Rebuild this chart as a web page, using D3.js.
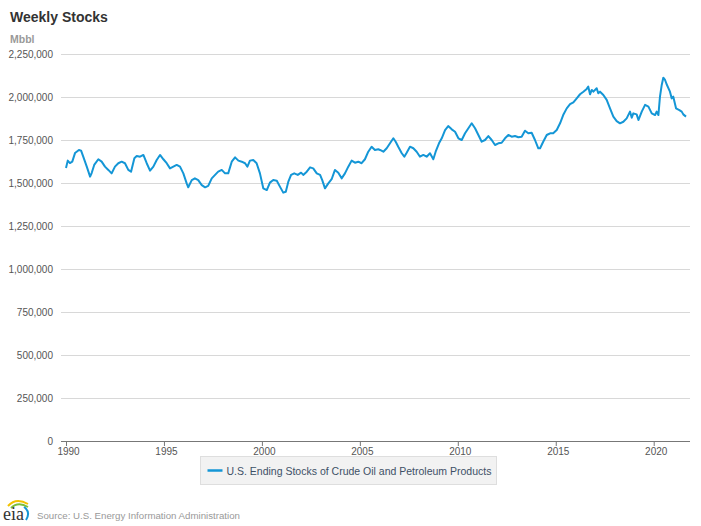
<!DOCTYPE html>
<html>
<head>
<meta charset="utf-8">
<script src="https://cdn.jsdelivr.net/npm/d3@7"></script>
<style>
  body { margin:0; background:#fff; }
  svg { font-family: "Liberation Sans", Arial, sans-serif; }
</style>
</head>
<body>
<svg id="chart" width="701" height="526"></svg>
<script>
// Weekly stocks (decimal year, thousand barrels)
const years = [
  1990.00,1990.09,1990.20,1990.32,1990.46,1990.66,1990.77,1990.88,1991.06,1991.23,1991.31,1991.44,1991.65,1991.82,1991.99,
  1992.16,1992.33,1992.50,1992.67,1992.84,1993.01,1993.18,1993.32,1993.49,1993.61,1993.78,1993.95,1994.12,1994.29,1994.46,
  1994.63,1994.80,1994.97,1995.14,1995.31,1995.48,1995.65,1995.82,1995.99,1996.16,1996.24,1996.42,1996.58,1996.75,1996.93,
  1997.10,1997.26,1997.44,1997.61,1997.77,1997.95,1998.12,1998.28,1998.46,1998.63,1998.80,1998.97,1999.14,1999.26,1999.39,
  1999.56,1999.73,1999.90,2000.07,2000.25,2000.41,2000.58,2000.76,2000.92,2001.09,2001.22,2001.35,2001.49,2001.65,2001.83,
  2002.00,2002.11,2002.29,2002.46,2002.62,2002.80,2002.97,2003.08,2003.22,2003.39,2003.56,2003.73,2003.90,2004.07,2004.24,
  2004.41,2004.58,2004.75,2004.92,2005.09,2005.26,2005.43,2005.60,2005.77,2005.94,2006.03,2006.20,2006.37,2006.54,2006.71,
  2006.83,2006.96,2007.14,2007.27,2007.39,2007.56,2007.73,2007.90,2008.07,2008.24,2008.41,2008.58,2008.75,2008.87,2009.04,
  2009.18,2009.35,2009.51,2009.69,2009.86,2010.03,2010.20,2010.37,2010.54,2010.71,2010.88,2011.05,2011.22,2011.39,2011.56,
  2011.73,2011.90,2012.07,2012.24,2012.41,2012.58,2012.75,2012.92,2013.09,2013.26,2013.43,2013.60,2013.77,2013.94,2014.11,
  2014.20,2014.36,2014.54,2014.71,2014.87,2015.05,2015.22,2015.38,2015.56,2015.73,2015.90,2016.07,2016.24,2016.41,2016.58,
  2016.66,2016.75,2016.84,2016.92,2017.09,2017.17,2017.26,2017.43,2017.60,2017.77,2017.94,2018.11,2018.28,2018.45,2018.62,
  2018.79,2018.88,2018.96,2019.13,2019.22,2019.39,2019.56,2019.73,2019.90,2020.07,2020.15,2020.24,2020.32,2020.41,2020.49,
  2020.58,2020.66,2020.83,2020.92,2021.00,2021.14,2021.31,2021.43,2021.51,2021.65
];
const stocks = [
  1587,1630,1616,1624,1674,1692,1688,1653,1595,1537,1558,1605,1638,1624,1595,
  1576,1556,1595,1615,1624,1615,1576,1566,1644,1657,1653,1663,1615,1572,1595,
  1634,1663,1638,1615,1585,1595,1605,1595,1556,1498,1475,1517,1527,1517,1488,
  1475,1483,1527,1547,1566,1576,1556,1556,1624,1649,1630,1624,1615,1595,1630,
  1634,1615,1556,1469,1459,1502,1517,1513,1479,1444,1449,1508,1547,1556,1547,
  1560,1547,1566,1591,1585,1556,1547,1517,1469,1498,1522,1576,1560,1527,1556,
  1595,1630,1618,1624,1615,1638,1682,1711,1692,1696,1692,1682,1702,1731,1760,
  1740,1711,1673,1653,1676,1711,1702,1682,1653,1663,1653,1673,1638,1682,1731,
  1760,1808,1831,1812,1798,1760,1750,1789,1818,1847,1818,1779,1740,1750,1773,
  1750,1721,1731,1734,1760,1779,1769,1773,1766,1769,1804,1789,1792,1750,1702,
  1702,1740,1779,1789,1789,1808,1847,1895,1934,1958,1969,1992,2016,2031,2047,
  2060,2016,2041,2031,2051,2022,2031,2012,1983,1934,1886,1860,1847,1856,1876,
  1915,1880,1905,1899,1866,1915,1954,1944,1905,1895,1915,1895,2002,2070,2112,
  2099,2074,2031,1992,2002,1934,1924,1915,1899,1886
];
const yTicks = [0,250000,500000,750000,1000000,1250000,1500000,1750000,2000000,2250000];
const xTicks = [1990,1995,2000,2005,2010,2015,2020];
const seriesName = "U.S. Ending Stocks of Crude Oil and Petroleum Products";

const svg = d3.select("#chart");
const plotL = 61, plotR = 690, plotT = 54, plotB = 441;

// 1990 sits at x=66, 2020 at ~654
const x = d3.scaleLinear().domain([1990, 2020]).range([66, 653.7]);
const y = d3.scaleLinear().domain([0, 2250000]).range([plotB, plotT]);

// title + unit
svg.append("text").attr("x", 10).attr("y", 22)
  .attr("font-size", 14).attr("font-weight", "bold").attr("fill", "#333")
  .text("Weekly Stocks");
svg.append("text").attr("x", 10).attr("y", 43)
  .attr("font-size", 10.5).attr("font-weight", "bold").attr("fill", "#999")
  .text("Mbbl");

// gridlines + y labels
const yAxis = d3.axisLeft(y).tickValues(yTicks).tickSize(-(plotR - plotL))
  .tickFormat(d3.format(","));
const gy = svg.append("g").attr("transform", `translate(${plotL},0)`).call(yAxis);
gy.select(".domain").remove();
gy.selectAll(".tick line").attr("stroke", "#d8d8d8").attr("stroke-width", 1);
gy.selectAll(".tick text").attr("x", -8).attr("dy", "0.35em")
  .attr("font-size", 10).attr("fill", "#555")
  .attr("font-family", "Liberation Sans, Arial, sans-serif");
gy.selectAll(".tick").filter(d => d === 0).select("line").remove();

// x axis
const xAxis = d3.axisBottom(x).tickValues(xTicks).tickSize(5).tickFormat(d3.format("d"));
const gx = svg.append("g").attr("transform", `translate(0,${plotB})`).call(xAxis);
gx.select(".domain").attr("d", `M${plotL},0.5H${plotR}`).attr("stroke", "#777");
gx.selectAll(".tick line").attr("stroke", "#777");
gx.selectAll(".tick text").attr("dy", "0.6em").attr("dx", 2)
  .attr("font-size", 10).attr("fill", "#555")
  .attr("font-family", "Liberation Sans, Arial, sans-serif");

// the series
const line = d3.line().x((d, i) => x(years[i])).y(d => y(d * 1000));
svg.append("path").datum(stocks)
  .attr("d", line)
  .attr("fill", "none").attr("stroke", "#1496d6")
  .attr("stroke-width", 2).attr("stroke-linejoin", "round");

// legend
const lg = svg.append("g").attr("transform", "translate(200.5,456.5)");
lg.append("rect").attr("width", 296).attr("height", 28)
  .attr("fill", "#f2f2f2").attr("stroke", "#dedede");
lg.append("line").attr("x1", 7).attr("x2", 22).attr("y1", 14).attr("y2", 14)
  .attr("stroke", "#1496d6").attr("stroke-width", 2.5);
lg.append("text").attr("x", 26).attr("y", 18)
  .attr("font-size", 10.5).attr("fill", "#3d5066").text(seriesName);

// source + eia mark
const logo = svg.append("g").attr("transform", "translate(2,498)");
logo.append("path").attr("d", "M6,8 Q14,-1 26,6").attr("fill", "none")
  .attr("stroke", "#f2c200").attr("stroke-width", 2);
logo.append("path").attr("d", "M9,10 Q16,3 26,9").attr("fill", "none")
  .attr("stroke", "#7bbf3c").attr("stroke-width", 2);
logo.append("path").attr("d", "M22,9 Q29,14 24,22").attr("fill", "none")
  .attr("stroke", "#1496d6").attr("stroke-width", 2);
logo.append("text").attr("x", 1).attr("y", 22)
  .attr("font-family", "Liberation Serif, serif").attr("font-size", 18).attr("fill", "#333")
  .text("eia");
svg.append("text").attr("x", 37).attr("y", 519)
  .attr("font-size", 9.7).attr("fill", "#999")
  .text("Source: U.S. Energy Information Administration");
</script>
</body>
</html>
